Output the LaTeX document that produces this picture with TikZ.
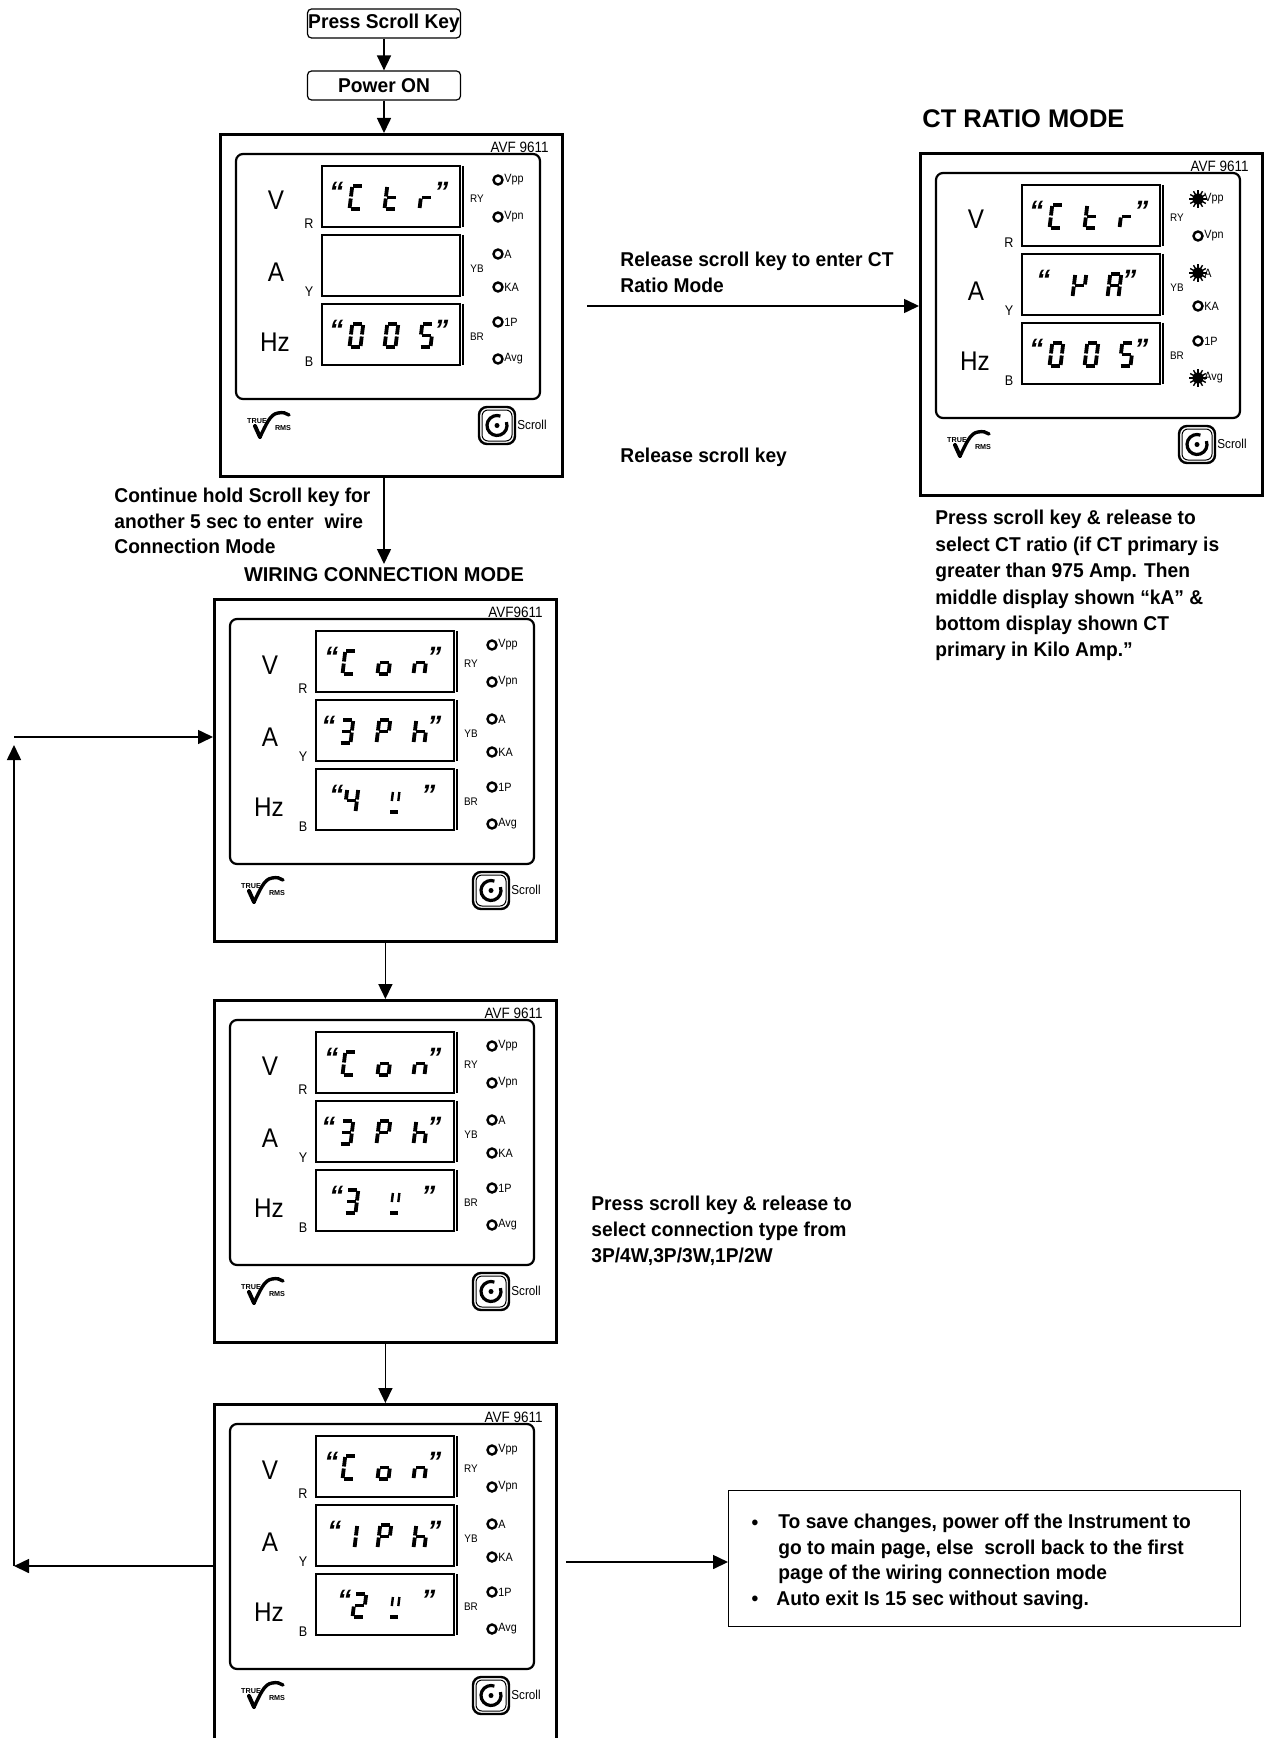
\documentclass[tikz,border=0pt]{standalone}
\usepackage{fontspec}
\setmainfont{Liberation Sans}
\newfontfamily\bodyfont[FakeStretch=0.96]{Liberation Sans}
\newfontfamily\headfont{Liberation Sans}
\newfontfamily\meterfont[FakeStretch=0.9]{Liberation Sans}
\usetikzlibrary{arrows.meta,calc}

\tikzset{
 conn/.style={line width=0.8pt,-{Triangle[length=7.5pt,width=7pt]}},
 flowbox/.style={draw,line width=0.6pt,rounded corners=2pt,minimum width=76.5pt,minimum height=14.5pt,inner sep=0pt,font={\fontsize{10pt}{12pt}\bodyfont\bfseries}},
 meterbox/.style={draw,line width=1.4pt,minimum width=171pt,minimum height=171pt,inner sep=0pt},
 infobox/.style={draw,line width=0.6pt,minimum width=256pt,minimum height=68pt,inner sep=0pt},
 txt/.style={font={\fontsize{10pt}{13pt}\bodyfont\bfseries},align=left,inner sep=0pt},
 headtxt/.style={font={\fontsize{10pt}{12pt}\headfont\bfseries},inner sep=0pt},
 panel/.style={line width=1.1pt,rounded corners=3.5pt},
 disp/.style={line width=1.1pt},
 dispedge/.style={line width=1.3pt},
 big/.style={font={\fontsize{13.5pt}{15pt}\meterfont},inner sep=0pt},
 sublab/.style={font={\fontsize{7pt}{8pt}\meterfont},inner sep=0pt},
 tinylab/.style={font={\fontsize{5.5pt}{6pt}\meterfont},inner sep=0pt},
 ledlab/.style={font={\fontsize{6pt}{7pt}\meterfont},inner sep=0pt},
 avf/.style={font={\fontsize{7.5pt}{8pt}\meterfont},inner sep=0pt},
 logot/.style={font={\fontsize{3.6pt}{4pt}\headfont\bfseries},inner sep=0pt},
 led/.style={line width=1.2pt},
 seg/.style={line width=1.9pt,line cap=butt},
 segthin/.style={line width=1.2pt,line cap=butt},
 qt/.style={font={\fontsize{14pt}{14pt}\headfont\bfseries\itshape},inner sep=0pt},
}

% seven segment pieces (glyph origin = bottom left, v negative upward)
\newcommand\segA{\draw[seg] (1.5,-23) -- (10.5,-23);}
\newcommand\segB{\draw[seg] (11.5,-22) -- (11.5,-12.5);}
\newcommand\segC{\draw[seg] (11.5,-10.5) -- (11.5,-1);}
\newcommand\segD{\draw[seg] (1.5,0) -- (10.5,0);}
\newcommand\segE{\draw[seg] (0.5,-10.5) -- (0.5,-1);}
\newcommand\segF{\draw[seg] (0.5,-22) -- (0.5,-12.5);}
\newcommand\segG{\draw[seg] (1.5,-11.5) -- (10.5,-11.5);}
\newcommand\segT{\draw[segthin] (2.5,-20) -- (2.5,-11); \draw[segthin] (9,-20) -- (9,-11);}
\newcommand\segU{\draw[seg] (2,0) -- (9.5,0);}

\newcommand\gl[2]{\begin{scope}[shift={(#1,43)},xslant=0.12]\foreach \s in {#2}{\csname seg\s\endcsname}\end{scope}}
\newcommand\oq[1]{\node[qt,anchor=north west] at (#1,16) {“};}
\newcommand\cq[1]{\node[qt,anchor=north west] at (#1,16) {”};}
\newcommand\dsp[2]{\begin{scope}[shift={(103,#1)}]#2\end{scope}}
\newcommand\burst[1]{\fill (279,#1) circle[radius=4.5];
  \foreach \a in {0,30,...,330}{\draw[line width=0.7pt] (279,#1) -- ++(\a:9);}}

% #1 name, #2 x, #3 y, #4 model, #5 display contents
\newcommand\meter[5]{%
 \node[meterbox,anchor=north west] (#1) at (#2,#3) {};
 \begin{scope}[shift={(#2,#3)}]
  \node[avf,anchor=east] (#1-avf) at (330,14) {#4};
  \draw[panel] (17,21) rectangle (321,266);
  \foreach \t in {33,102,171}{\draw[disp] (103,\t) rectangle (241,\t+61);
     \draw[dispedge] (244,\t) -- (244,\t+61);}
  \node[big] (#1-V) at (57,67) {V};
  \node[big] (#1-A) at (57,139) {A};
  \node[big] (#1-Hz) at (56,209) {Hz};
  \node[sublab] (#1-R) at (90,91) {R};
  \node[sublab] (#1-Y) at (90,159) {Y};
  \node[sublab] (#1-B) at (90,229) {B};
  \node[tinylab] (#1-RY) at (258,66) {RY};
  \node[tinylab] (#1-YB) at (258,136) {YB};
  \node[tinylab] (#1-BR) at (258,204) {BR};
  \foreach \yy/\lab in {47/Vpp,84/Vpn,121/A,154/KA,189/1P,226/Avg}{
    \draw[led] (279,\yy) circle[radius=4.5];
    \node[ledlab,anchor=west] (#1-led\yy) at (285,\yy) {\lab};}
  % true rms logo
  \node[logot] (#1-true) at (38,288) {TRUE};
  \node[logot] (#1-rms) at (64,295) {RMS};
  \draw[line width=2pt,line cap=round] (36,293) -- (41,304);
  \draw[line width=1.7pt,line cap=round] (41,304) .. controls (47,292) and (51,281) .. (59,280) .. controls (64,279) and (67,280) .. (70,282);
  % scroll key
  \draw[line width=1.2pt,rounded corners=4pt] (260,274) rectangle (296,311);
  \draw[line width=0.5pt,rounded corners=3pt] (263,277) rectangle (293,308);
  \coordinate (#1-sc) at (278,292.5);
  \draw[line width=1.6pt] ([shift={(-20:10)}]#1-sc) arc[start angle=-20,end angle=290,radius=10];
  \fill (#1-sc) circle[radius=2.5];
  \node[ledlab,anchor=west,font={\fontsize{6.5pt}{7pt}\meterfont}] (#1-scroll) at (298,292) {Scroll};
  #5
 \end{scope}}

\begin{document}
\begin{tikzpicture}[x=0.5pt,y=-0.5pt]
\useasboundingbox (0,0) rectangle (1266,1738);
\clip (0,0) rectangle (1266,1738);
\fill[white] (0,0) rectangle (1266,1738);

\node[flowbox] (psk) at (384,23.5) {Press Scroll Key};
\node[flowbox] (pwr) at (384,85.5) {Power ON};

\meter{m1}{219}{133}{AVF 9611}{%
 \dsp{33}{\oq{7}\gl{27}{A,D,E,F}\gl{62}{D,E,F,G}\gl{97}{E,G}\cq{112}}%
 \dsp{171}{\oq{7}\gl{27}{A,B,C,D,E,F}\gl{62}{A,B,C,D,E,F}\gl{97}{A,C,D,F,G}\cq{112}}}

\meter{ct}{919}{152}{AVF 9611}{%
 \dsp{33}{\oq{7}\gl{27}{A,D,E,F}\gl{62}{D,E,F,G}\gl{97}{E,G}\cq{112}}%
 \dsp{102}{\oq{14}\gl{50}{B,E,F,G}\gl{85}{A,B,C,E,F,G}\cq{100}}%
 \dsp{171}{\oq{7}\gl{27}{A,B,C,D,E,F}\gl{62}{A,B,C,D,E,F}\gl{97}{A,C,D,F,G}\cq{112}}%
 \burst{47}\burst{121}\burst{226}}

\meter{m2}{213}{598}{AVF9611}{%
 \dsp{33}{\oq{8}\gl{26}{A,D,E,F}\gl{61}{C,D,E,G}\gl{97}{C,E,G}\cq{111}}%
 \dsp{102}{\oq{5}\gl{23}{A,B,C,D,G}\gl{60}{A,B,E,F,G}\gl{97}{C,E,F,G}\cq{111}}%
 \dsp{171}{\oq{13}\gl{28}{B,C,F,G}\gl{72}{T,U}\cq{105}}}

\meter{m3}{213}{999}{AVF 9611}{%
 \dsp{33}{\oq{8}\gl{26}{A,D,E,F}\gl{61}{C,D,E,G}\gl{97}{C,E,G}\cq{111}}%
 \dsp{102}{\oq{5}\gl{23}{A,B,C,D,G}\gl{60}{A,B,E,F,G}\gl{97}{C,E,F,G}\cq{111}}%
 \dsp{171}{\oq{13}\gl{28}{A,B,C,D,G}\gl{72}{T,U}\cq{105}}}

\meter{m4}{213}{1403}{AVF 9611}{%
 \dsp{33}{\oq{8}\gl{26}{A,D,E,F}\gl{61}{C,D,E,G}\gl{97}{C,E,G}\cq{111}}%
 \dsp{102}{\oq{11}\gl{27}{B,C}\gl{61}{A,B,E,F,G}\gl{97}{C,E,F,G}\cq{111}}%
 \dsp{171}{\oq{21}\gl{36}{A,B,D,E,G}\gl{72}{T,U}\cq{105}}}

% texts
\node[headtxt,anchor=west,font={\fontsize{12.75pt}{14pt}\headfont\bfseries}] (tct) at (922,119) {CT RATIO MODE};
\node[headtxt] (twir) at (384,575) {WIRING CONNECTION MODE};
\node[txt,anchor=north west] (trel) at (620,252) {Release scroll key to enter CT\\Ratio Mode};
\node[txt,anchor=base west] (trel2) at (620,462) {Release scroll key};
\node[txt,anchor=north west,font={\fontsize{10pt}{12.75pt}\bodyfont\bfseries}] (tcont) at (114,488) {Continue hold Scroll key for\\another 5 sec to enter\ \ wire\\Connection Mode};
\node[txt,anchor=north west,font={\fontsize{10pt}{13.2pt}\bodyfont\bfseries}] (tctd) at (935,510) {Press scroll key \& release to\\select CT ratio (if CT primary is\\greater than 975 Amp. Then\\middle display shown “kA” \&\\bottom display shown CT\\primary in Kilo Amp.”};
\node[txt,anchor=north west] (tconn) at (591,1196) {Press scroll key \& release to\\select connection type from\\3P/4W,3P/3W,1P/2W};

\node[infobox,anchor=north west] (info) at (728,1490) {};
\node[txt,anchor=base] (b1) at (755,1529) {•};
\node[txt,anchor=north west,font={\fontsize{10pt}{12.75pt}\bodyfont\bfseries}] (info1) at (778,1514) {To save changes, power off the Instrument to\\go to main page, else\ \ scroll back to the first\\page of the wiring connection mode};
\node[txt,anchor=base] (b2) at (755,1605) {•};
\node[txt,anchor=base west] (info2) at (776,1605) {Auto exit Is 15 sec without saving.};

% connectors
\coordinate (wtip) at (384,564);
\coordinate (rel0) at (587,306);
\coordinate (lb) at (14,1566);
\coordinate (lt) at (14,745);
\coordinate (lh) at (14,737);
\coordinate (ia) at (566,1562);
\draw[conn] (psk) -- (pwr);
\draw[conn] (pwr) -- (pwr |- m1.north);
\draw[conn] (pwr |- m1.south) -- (wtip);
\draw[conn] (rel0) -- (rel0 -| ct.west);
\draw[conn] (m2) -- (m3);
\draw[conn] (m3) -- (m4);
\draw[conn] (lb -| m4.west) -- (lb);
\draw[conn] (lb) -- (lt);
\draw[conn] (lh) -- (lh -| m2.west);
\draw[conn] (ia) -- (ia -| info.west);
\end{tikzpicture}
\end{document}
